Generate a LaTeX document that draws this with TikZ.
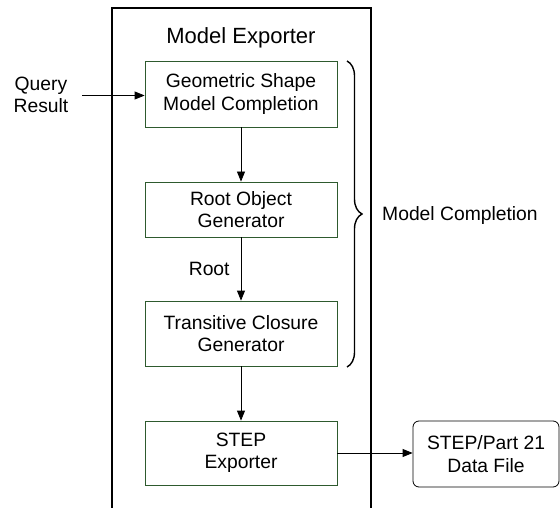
\documentclass[tikz,border=0pt]{standalone}
\usepackage{fontspec}
\setmainfont{Liberation Sans}
\usepackage{xcolor}
\usepackage{tikz}
\usetikzlibrary{positioning,calc,arrows.meta,decorations.pathreplacing}
\definecolor{boxgreen}{RGB}{46,90,46}

\begin{document}
\begin{tikzpicture}[x=1pt, y=-1pt,
    every node/.style={font=\fontsize{19.3}{22.5}\selectfont, align=center, inner sep=0pt},
    stage/.style={draw=boxgreen, line width=0.8pt, minimum width=192pt},
    flow/.style={line width=0.8pt, -{Triangle[length=10pt, width=8pt]}}]
  \useasboundingbox (0,0) rectangle (560,508);

  % Exporter frame
  \draw[line width=2pt] (112,510) -- (112,8) -- (371,8) -- (371,510);
  \node (title) at (241,38) {\fontsize{22}{26}\selectfont Model Exporter};

  % Stages
  \node[stage, minimum height=66pt] (geo) at (241,94) {Geometric Shape\\Model Completion};
  \node[stage, minimum height=55pt] (rootgen) at (241,209.5) {Root Object\\Generator};
  \node[stage, minimum height=65pt] (trans) at (241,333.5) {Transitive Closure\\Generator};
  \node[stage, minimum height=64pt] (step) at (241,453) {STEP\\Exporter};

  % Input and output
  \node (query) at (41,95) {Query\\Result};
  \coordinate (qin) at (82,95.5);
  \node[draw, line width=0.8pt, rounded corners=6pt, minimum width=146pt, minimum height=66pt] (datafile) at (486,454) {STEP/Part 21\\Data File};

  \draw[flow] (qin) -- (geo.west |- qin);
  \draw[flow] (geo) -- (rootgen);
  \draw[flow] (rootgen) -- node[left=11pt] {Root} (trans);
  \draw[flow] (trans) -- (step);
  \draw[flow] (step.east) -- (datafile.west |- step.east);

  % Model completion brace
  \draw[line width=1.4pt, decorate, decoration={brace, amplitude=15pt}] (347,61) -- (347,367);
  \node[anchor=west] (mc) at (382,216) {Model Completion};
\end{tikzpicture}
\end{document}
